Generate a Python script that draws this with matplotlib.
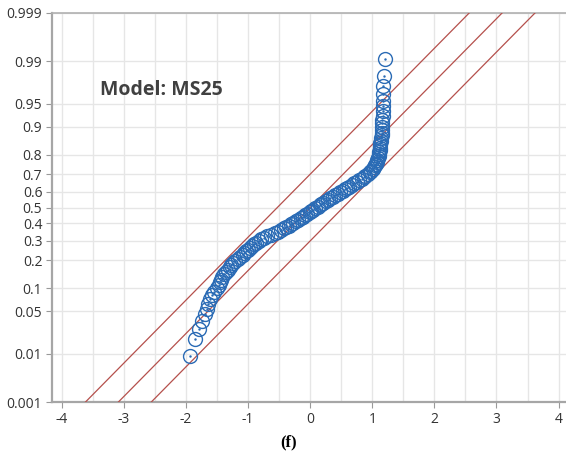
import numpy as np
import matplotlib.pyplot as plt
from statistics import NormalDist

plt.rcParams['axes.unicode_minus'] = False

# sorted residuals (lowest to highest)
residuals = [
    -1.93, -1.85, -1.79, -1.74, -1.70, -1.67, -1.64, -1.61, -1.58, -1.55,
    -1.51, -1.47, -1.45, -1.44, -1.42, -1.39, -1.36, -1.33, -1.30, -1.28,
    -1.25, -1.21, -1.17, -1.13, -1.09, -1.06, -1.03, -1.00, -0.97, -0.94,
    -0.91, -0.87, -0.83, -0.79, -0.75, -0.69, -0.63, -0.57, -0.52, -0.47,
    -0.43, -0.39, -0.35, -0.31, -0.27, -0.23, -0.19, -0.15, -0.11, -0.08,
    -0.05, -0.01, 0.02, 0.05, 0.08, 0.12, 0.15, 0.18, 0.21, 0.25,
    0.28, 0.32, 0.36, 0.40, 0.44, 0.48, 0.52, 0.56, 0.59, 0.63,
    0.67, 0.71, 0.75, 0.79, 0.83, 0.86, 0.89, 0.93, 0.96, 0.98,
    1.01, 1.03, 1.05, 1.06, 1.07, 1.08, 1.09, 1.10, 1.11, 1.11,
    1.12, 1.12, 1.13, 1.13, 1.14, 1.14, 1.15, 1.15, 1.15, 1.16,
    1.16, 1.16, 1.17, 1.17, 1.17, 1.18, 1.18, 1.18, 1.19, 1.21,
]
prob_ticks = [0.001, 0.01, 0.05, 0.1, 0.2, 0.3, 0.4, 0.5, 0.6, 0.7, 0.8, 0.9, 0.95, 0.99, 0.999]
prob_labels = ['0.001', '0.01', '0.05', '0.1', '0.2', '0.3', '0.4', '0.5', '0.6', '0.7',
               '0.8', '0.9', '0.95', '0.99', '0.999']
x_ticks = [-4, -3, -2, -1, 0, 1, 2, 3, 4]
band_offset = 0.53
model_label = 'Model: MS25'
panel_label = '(f)'

nd = NormalDist()
n = len(residuals)
quantiles = [nd.inv_cdf(i / (n + 1)) for i in range(1, n + 1)]

fig = plt.figure(figsize=(5.66, 4.51), dpi=100)
ax = fig.add_axes([52 / 566, 49 / 451, 514 / 566, 389 / 451])

line_x = np.array([-4.5, 4.5])
red = '#b5504c'
ax.plot(line_x, line_x, color=red, lw=0.9, zorder=3)
ax.plot(line_x, line_x + band_offset, color=red, lw=0.9, zorder=3)
ax.plot(line_x, line_x - band_offset, color=red, lw=0.9, zorder=3)

blue = '#2a6bb5'
ax.plot(residuals, quantiles, 'o', ms=10, mfc='none', mec=blue, mew=1.0, zorder=4)
ax.plot(residuals, quantiles, '.', ms=1.5, color=blue, zorder=4)

ax.set_xlim(-4.16, 4.12)
ax.set_ylim(nd.inv_cdf(0.001), nd.inv_cdf(0.999))

ax.set_xticks(x_ticks)
ax.set_xticks(np.arange(-4, 4.01, 0.5), minor=True)
ax.set_yticks([nd.inv_cdf(p) for p in prob_ticks])
ax.set_yticklabels(prob_labels)
ax.grid(True, which='both', color='#e6e6e6', lw=1, zorder=0)
ax.set_axisbelow(True)
ax.tick_params(which='minor', length=0)
ax.tick_params(which='major', length=4, color='#999999', labelsize=10,
               labelcolor='#333333', pad=3)
for lab in ax.get_xticklabels() + ax.get_yticklabels():
    lab.set_family('Open Sans')

ax.spines['right'].set_visible(False)
ax.spines['top'].set_color('#b0b0b0')
ax.spines['top'].set_linewidth(1.2)
for s in ['left', 'bottom']:
    ax.spines[s].set_color('#a6a6a6')
    ax.spines[s].set_linewidth(1.6)

# annotation placed in axes-fraction coordinates
ax.text((100 - 52) / 514, 1 - (90 - 13) / 389, model_label, transform=ax.transAxes,
        fontsize=14, fontweight='bold', color='#404040',
        family='Open Sans', va='center', ha='left')

fig.text(289 / 566, 1 - 442 / 451, panel_label, fontsize=12, fontweight='bold',
         family='Liberation Serif', ha='center', va='center')

fig.savefig('out.png', dpi=100)
